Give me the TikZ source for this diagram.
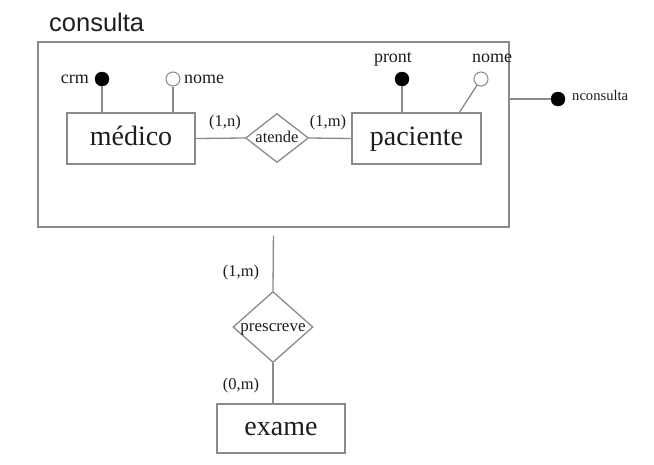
\documentclass[tikz,border=0pt]{standalone}
\usepackage{fontspec}
\setmainfont{Liberation Serif}
\newfontfamily\titlefont{Liberation Sans}
\usetikzlibrary{shapes.geometric}
\definecolor{ln}{HTML}{8A8A8A}
\definecolor{tx}{HTML}{1E1E1E}
\tikzset{
  every node/.style={text=tx},
  conn/.style={draw=ln, line width=1.3pt},
  entity/.style={draw=ln, line width=1.3pt, inner sep=0pt, font=\fontsize{28}{30}\selectfont},
  rel/.style={diamond, draw=ln, line width=1.3pt, inner sep=0pt},
  keyattr/.style={circle, fill=black, draw=black, inner sep=0pt, minimum size=14pt},
  attr/.style={circle, fill=white, draw=ln, line width=1pt, inner sep=0pt, minimum size=14pt},
  lbl/.style={inner sep=0pt, font=\fontsize{18}{20}\selectfont},
  card/.style={inner sep=0pt, font=\fontsize{16.5}{18}\selectfont}
}
\newcommand{\dtext}[2]{\makebox[0pt]{\raisebox{-1.0ex}[0pt][0pt]{\fontsize{#1}{#1}\selectfont #2}}}
\newcommand{\etext}[1]{\makebox[0pt]{\raisebox{-0.55ex}[0pt][0pt]{#1}}}
\begin{document}
\begin{tikzpicture}[x=1pt,y=-1pt]
\useasboundingbox[fill=white] (0,0) rectangle (654,464);
% title
\node[inner sep=0pt, anchor=west, font=\titlefont\fontsize{25.5}{28}\selectfont] (title) at (49,22) {consulta};
% aggregation box
\node[draw=ln, line width=1.3pt, minimum width=471pt, minimum height=185pt, inner sep=0pt] (cbox) at (273.5,134.5) {};
% entities
\node[entity, minimum width=128pt, minimum height=51pt] (medico) at (131,138.5) {\etext{médico}};
\node[entity, minimum width=129pt, minimum height=51pt] (paciente) at (416.5,138.5) {\etext{paciente}};
\node[entity, minimum width=128pt, minimum height=49pt] (exame) at (281,428.5) {\etext{exame}};
% relationships
\node[rel, minimum width=63pt, minimum height=49pt] (atende) at (277,138) {\dtext{16.5}{atende}};
\node[rel, minimum width=80pt, minimum height=71pt] (prescreve) at (273,327) {\dtext{17}{prescreve}};
% attributes medico
\node[keyattr] (crm) at (102,79) {};
\node[lbl, anchor=east] (crmt) at (89,79) {crm};
\node[attr] (nome1) at (173,79) {};
\node[lbl, anchor=west] (nome1t) at (184,79) {nome};
% attributes paciente
\node[keyattr] (pront) at (402,79) {};
\node[lbl] (prontt) at (393,59) {pront};
\node[attr] (nome2) at (481,79) {};
\node[lbl] (nome2t) at (492,58) {nome};
\coordinate (p2) at (459,113);
% nconsulta
\node[keyattr] (nc) at (558,99) {};
\node[inner sep=0pt, anchor=west, font=\fontsize{14.6}{16}\selectfont] (nct) at (572,96) {nconsulta};
% connectors
\draw[conn] (medico.east) -- (atende.west);
\draw[conn] (atende.east) -- (paciente.west);
\draw[conn] (crm.south) -- (crm.south |- medico.north);
\draw[conn] (nome1.south) -- (nome1.south |- medico.north);
\draw[conn] (pront.south) -- (pront.south |- paciente.north);
\draw[conn] (nome2) -- (p2);
\draw[conn] (nc.west) -- (nc.west -| cbox.east);
\draw[conn, shorten <=8pt] (cbox.south) -- (prescreve.north);
\draw[conn] (prescreve.south) -- (prescreve.south |- exame.north);
% cardinalities
\node[card] (c1) at (225,123) {(1,n)};
\node[card] (c2) at (328,123) {(1,m)};
\node[card] (c3) at (241,273) {(1,m)};
\node[card] (c4) at (241,386) {(0,m)};
\end{tikzpicture}
\end{document}
